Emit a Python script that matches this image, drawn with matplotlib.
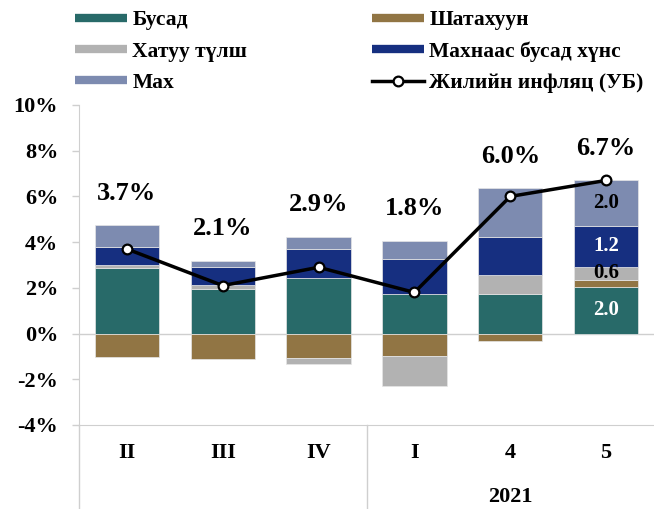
import matplotlib
matplotlib.use("Agg")
import matplotlib.pyplot as plt
import matplotlib.transforms as mtransforms
from matplotlib.lines import Line2D
import numpy as np

FONT = ["Liberation Serif", "DejaVu Serif"]
plt.rcParams["font.family"] = FONT
plt.rcParams["font.weight"] = "bold"

# data (percentage points)
categories = ["II", "III", "IV", "I", "4", "5"]
busad = [2.88, 1.94, 2.41, 1.71, 1.75, 2.02]
shatakhuun = [-1.03, -1.10, -1.05, -0.98, -0.32, 0.32]
khatuu = [0.12, 0.18, -0.27, -1.33, 0.81, 0.58]
makhnaas = [0.80, 0.80, 1.27, 1.55, 1.65, 1.78]
mah = [0.95, 0.26, 0.56, 0.80, 2.15, 2.00]
inflation = [3.7, 2.1, 2.9, 1.8, 6.0, 6.7]
seg_labels_last = ["2.0", "0.6", "1.2", "2.0"]   # busad, khatuu, makhnaas, mah on bar "5"
year_label = "2021"

names = ["Бусад", "Шатахуун", "Хатуу түлш", "Махнаас бусад хүнс", "Мах"]
colors = ["#286a69", "#917544", "#b2b2b2", "#162f80", "#7d8bb0"]
series = [busad, shatakhuun, khatuu, makhnaas, mah]

GRAY = "#cfcfcf"

fig = plt.figure(figsize=(6.54, 5.09), dpi=100)
ax = fig.add_axes([79 / 654, 84 / 509, 575 / 654, 320 / 509])

x = np.arange(len(categories))
w = 0.67
pos = np.zeros(len(x))
neg = np.zeros(len(x))
bars = {}
for name, vals, c in zip(names, series, colors):
    v = np.array(vals)
    bottom = np.where(v >= 0, pos, neg)
    bars[name] = ax.bar(x, v, w, bottom=bottom, color=c, edgecolor="#e6e6e6",
                        linewidth=0.5, zorder=2)
    pos = pos + np.where(v >= 0, v, 0)
    neg = neg + np.where(v < 0, v, 0)

ax.plot(x, inflation, "-o", color="black", lw=2.5, markersize=7,
        markerfacecolor="white", markeredgecolor="black", markeredgewidth=1.6, zorder=4)

for xi, top, val in zip(x, pos, inflation):
    ax.annotate(f"{val:.1f}%", (xi, top), textcoords="offset points", xytext=(0, 23),
                ha="center", va="center", fontsize=19, fontweight="bold")

# value labels inside the last bar
last = len(x) - 1
label_specs = [(busad, "white"), (khatuu, "black"), (makhnaas, "white"), (mah, "black")]
for (vals, tc), txt in zip(label_specs, seg_labels_last):
    idx = series.index(vals)
    r = bars[names[idx]][last]
    ax.text(r.get_x() + r.get_width() / 2, r.get_y() + r.get_height() / 2, txt,
            ha="center", va="center", fontsize=15, fontweight="bold", color=tc, zorder=5)

ax.axhline(0, color=GRAY, lw=1, zorder=1)
ax.set_xlim(-0.5, len(x) - 0.5)
ax.set_ylim(-4, 10)
ax.set_yticks(range(-4, 11, 2))
ax.set_yticklabels([f"{t}%" for t in range(-4, 11, 2)], fontsize=16, fontweight="bold")
ax.set_xticks(x)
ax.set_xticklabels(categories, fontsize=16, fontweight="bold")
ax.tick_params(axis="x", length=0, pad=13)
ax.tick_params(axis="y", length=5, color=GRAY, width=1, pad=10)
for s in ("top", "right"):
    ax.spines[s].set_visible(False)
ax.spines["left"].set_color(GRAY)
ax.spines["bottom"].set_color(GRAY)

# group separators under the axis
trans = mtransforms.blended_transform_factory(ax.transData, ax.transAxes)
for xs in (-0.5, 2.5):
    ax.plot([xs, xs], [0, -0.27], color=GRAY, lw=1, transform=trans, clip_on=False)
ax.text(4, -0.225, year_label, transform=trans, ha="center", va="center",
        fontsize=16, fontweight="bold")

handles = [Line2D([], [], color=c, lw=6, solid_capstyle="butt") for c in colors]
handles.append(Line2D([], [], color="black", lw=2.5, marker="o", markersize=7,
                      markerfacecolor="white", markeredgewidth=1.6))
labels = names + ["Жилийн инфляц (УБ)"]
order = [0, 2, 4, 1, 3, 5]
fig.legend([handles[i] for i in order], [labels[i] for i in order], ncol=2,
           loc="upper left", bbox_to_anchor=(56 / 654, 1.018), frameon=False,
           prop={"family": FONT, "weight": "bold", "size": 15.5},
           handlelength=2.4, handletextpad=0.25, labelspacing=0.52, columnspacing=5.8)

fig.savefig("out.png", dpi=100, facecolor="white")
